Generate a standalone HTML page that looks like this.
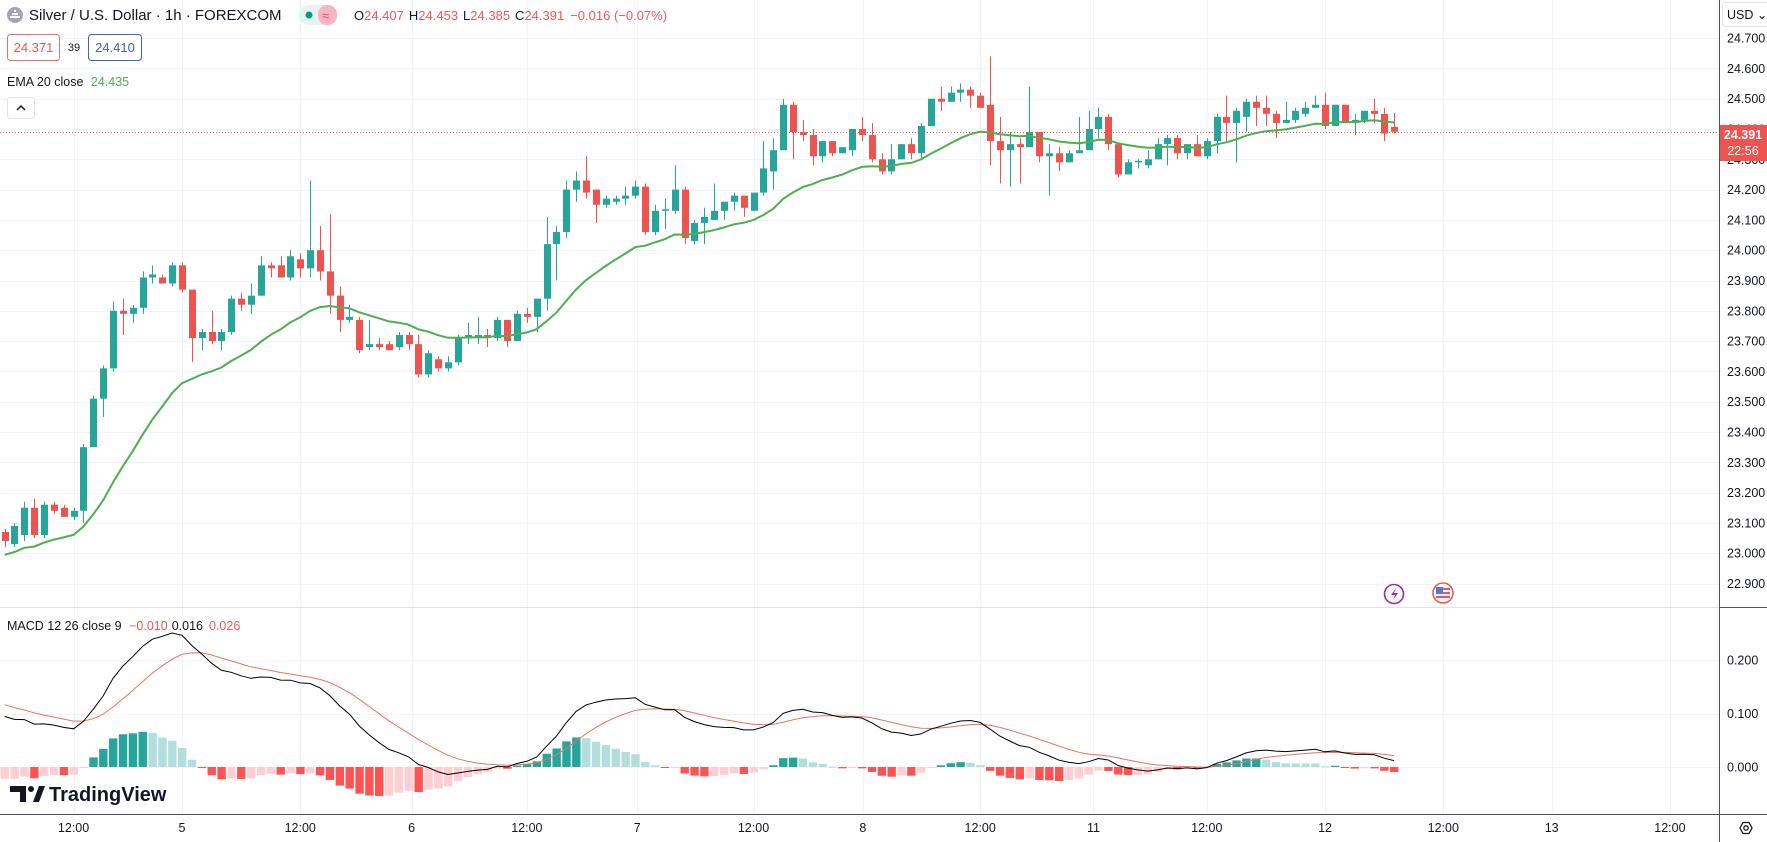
<!DOCTYPE html>
<html><head><meta charset="utf-8"><style>
html,body{margin:0;padding:0;background:#fff;overflow:hidden}
svg{display:block;font-family:"Liberation Sans",sans-serif}
</style></head><body>
<svg id="chart" width="1767" height="842" viewBox="0 0 1767 842" xmlns="http://www.w3.org/2000/svg">
<rect x="0" y="0" width="1767" height="842" fill="#ffffff"/>
<g id="grid"></g>
<g id="candles"></g>
<g id="macd"></g>
<g id="axes"></g>
<!-- header -->
<g>
<circle cx="15" cy="15" r="8" fill="#a3a6af"/>
<path d="M10 17 h10 M12 14 h6 M14 11 h2" stroke="#fff" stroke-width="2"/>
<text x="29" y="20" font-size="15" fill="#131722">Silver / U.S. Dollar · 1h · FOREXCOM</text>
<rect x="299" y="5" width="38" height="20" rx="10" fill="#e6f4f1"/>
<rect x="318" y="5" width="19" height="20" rx="9" fill="#f7b5c4"/>
<circle cx="309" cy="15" r="3.5" fill="#089981"/>
<text x="322" y="20" font-size="13" fill="#e2447a">≈</text>
<text x="354" y="20" font-size="13"><tspan fill="#131722">O</tspan><tspan fill="#e85a5a">24.407</tspan><tspan fill="#131722" dx="5">H</tspan><tspan fill="#e85a5a">24.453</tspan><tspan fill="#131722" dx="5">L</tspan><tspan fill="#e85a5a">24.385</tspan><tspan fill="#131722" dx="5">C</tspan><tspan fill="#e85a5a">24.391</tspan><tspan fill="#e85a5a" dx="6">−0.016 (−0.07%)</tspan></text>
<rect x="7.5" y="34.5" width="52" height="26" rx="3" fill="#fff" stroke="#e57373"/>
<text x="33.5" y="52" font-size="13" fill="#e85a5a" text-anchor="middle">24.371</text>
<text x="74" y="51" font-size="11" fill="#131722" text-anchor="middle">39</text>
<rect x="88.5" y="34.5" width="53" height="26" rx="3" fill="#fff" stroke="#3f62c5"/>
<text x="115" y="52" font-size="13" fill="#3f62c5" text-anchor="middle">24.410</text>
<text x="7" y="86" font-size="12.5" fill="#131722">EMA 20 close <tspan fill="#4caf50" dx="4">24.435</tspan></text>
<rect x="7.5" y="97.5" width="27" height="21" rx="3" fill="#fff" stroke="#e0e3eb"/>
<path d="M17 110 l4 -4 l4 4" stroke="#131722" stroke-width="1.5" fill="none"/>
<text x="7" y="630" font-size="12.5" fill="#131722">MACD 12 26 close 9 <tspan fill="#e85a5a" dx="4">−0.010</tspan><tspan fill="#131722" dx="4">0.016</tspan><tspan fill="#e85a5a" dx="6">0.026</tspan></text>
<g>
<path d="M10 786 h16 v16 h-6 v-10 h-10 z" fill="#131722"/>
<circle cx="31" cy="789" r="3" fill="#131722"/>
<path d="M33 802 l6 -16 h6 l-6 16 z" fill="#131722"/>
<text x="49" y="801" font-size="20" font-weight="bold" fill="#131722">TradingView</text>
</g>
<g>
<circle cx="1394" cy="594" r="9.5" fill="#fff" stroke="#9c27b0" stroke-width="1.6"/>
<path d="M1396 588 l-5 7 h4 l-2 5 l5 -7 h-4 z" fill="#9c27b0"/>
</g>
<g>
<circle cx="1443" cy="593" r="10" fill="#fff" stroke="#e85a5a" stroke-width="1.6"/>
<rect x="1436" y="587" width="14" height="13" fill="#f0f0f0"/>
<rect x="1436" y="587" width="7" height="7" fill="#4a7fd8"/>
<rect x="1443" y="588" width="7" height="2" fill="#e85a5a"/>
<rect x="1443" y="592" width="7" height="2" fill="#e85a5a"/>
<rect x="1436" y="596" width="14" height="2" fill="#e85a5a"/>
</g>
</g>
</svg>
<script>
// ---- data ----
const opens=[23.07,23.03,23.06,23.15,23.06,23.16,23.15,23.12,23.14,23.35,23.51,23.61,23.80,23.79,23.81,23.91,23.91,23.89,23.95,23.87,23.71,23.73,23.70,23.73,23.84,23.82,23.85,23.95,23.95,23.91,23.97,23.94,24.00,23.93,23.85,23.77,23.77,23.68,23.69,23.69,23.68,23.72,23.69,23.59,23.64,23.61,23.63,23.71,23.71,23.72,23.71,23.77,23.70,23.79,23.78,23.84,24.02,24.06,24.20,24.23,24.20,24.15,24.16,24.17,24.18,24.21,24.06,24.13,24.13,24.20,24.03,24.09,24.10,24.13,24.16,24.18,24.13,24.19,24.26,24.33,24.48,24.39,24.38,24.31,24.36,24.32,24.33,24.40,24.38,24.30,24.26,24.30,24.35,24.32,24.41,24.50,24.49,24.52,24.53,24.51,24.48,24.36,24.33,24.35,24.34,24.39,24.31,24.32,24.29,24.32,24.33,24.40,24.44,24.35,24.25,24.29,24.28,24.30,24.35,24.37,24.32,24.35,24.31,24.36,24.44,24.42,24.44,24.49,24.47,24.45,24.42,24.43,24.45,24.47,24.48,24.41,24.48,24.42,24.43,24.46,24.45,24.407];
const highs=[23.08,23.10,23.17,23.18,23.17,23.17,23.16,23.15,23.36,23.52,23.62,23.83,23.84,23.82,23.93,23.95,23.92,23.96,23.96,23.87,23.74,23.80,23.74,23.85,23.86,23.89,23.98,23.96,23.98,24.00,23.99,24.23,24.08,24.12,23.88,23.82,23.78,23.77,23.71,23.70,23.73,23.73,23.72,23.67,23.65,23.65,23.72,23.76,23.78,23.74,23.78,23.77,23.80,23.81,23.84,24.11,24.08,24.23,24.26,24.31,24.20,24.18,24.18,24.21,24.23,24.22,24.15,24.17,24.28,24.21,24.10,24.14,24.22,24.16,24.19,24.18,24.19,24.36,24.37,24.50,24.49,24.43,24.40,24.36,24.36,24.34,24.40,24.44,24.42,24.32,24.35,24.35,24.37,24.42,24.50,24.54,24.54,24.55,24.54,24.52,24.64,24.44,24.39,24.37,24.54,24.39,24.35,24.34,24.33,24.44,24.46,24.47,24.45,24.35,24.30,24.30,24.33,24.37,24.38,24.38,24.35,24.38,24.37,24.45,24.51,24.47,24.50,24.51,24.51,24.46,24.49,24.47,24.49,24.51,24.52,24.48,24.48,24.45,24.46,24.50,24.47,24.453];
const lows=[23.02,23.02,23.04,23.05,23.05,23.13,23.12,23.11,23.10,23.35,23.45,23.60,23.72,23.76,23.79,23.89,23.89,23.88,23.86,23.63,23.67,23.69,23.67,23.72,23.80,23.79,23.85,23.91,23.91,23.90,23.91,23.91,23.90,23.79,23.73,23.76,23.66,23.67,23.67,23.67,23.67,23.67,23.58,23.58,23.60,23.60,23.62,23.69,23.69,23.68,23.70,23.68,23.70,23.76,23.73,23.80,23.90,24.04,24.16,24.17,24.09,24.14,24.15,24.15,24.17,24.05,24.05,24.07,24.12,24.02,24.02,24.02,24.10,24.10,24.13,24.11,24.13,24.18,24.20,24.33,24.30,24.36,24.28,24.29,24.31,24.32,24.31,24.36,24.29,24.25,24.25,24.30,24.30,24.30,24.41,24.46,24.49,24.49,24.47,24.47,24.28,24.22,24.21,24.22,24.34,24.29,24.18,24.26,24.29,24.32,24.33,24.37,24.33,24.24,24.25,24.27,24.27,24.30,24.28,24.30,24.30,24.31,24.30,24.32,24.36,24.29,24.39,24.41,24.41,24.37,24.42,24.42,24.44,24.47,24.40,24.41,24.42,24.38,24.42,24.42,24.36,24.385];
const closes=[23.04,23.09,23.15,23.06,23.16,23.14,23.12,23.14,23.35,23.51,23.61,23.80,23.79,23.81,23.91,23.92,23.89,23.95,23.87,23.71,23.73,23.70,23.73,23.84,23.82,23.85,23.95,23.94,23.91,23.98,23.94,24.00,23.93,23.85,23.77,23.78,23.67,23.69,23.68,23.67,23.72,23.69,23.59,23.66,23.61,23.63,23.71,23.72,23.72,23.71,23.77,23.70,23.79,23.78,23.84,24.02,24.06,24.20,24.23,24.19,24.15,24.17,24.17,24.18,24.21,24.06,24.13,24.135,24.20,24.04,24.09,24.11,24.13,24.16,24.18,24.14,24.19,24.27,24.33,24.48,24.39,24.38,24.31,24.36,24.32,24.34,24.40,24.38,24.30,24.26,24.30,24.35,24.32,24.41,24.50,24.49,24.52,24.53,24.51,24.47,24.36,24.33,24.35,24.34,24.39,24.31,24.32,24.29,24.32,24.33,24.40,24.44,24.35,24.25,24.29,24.295,24.30,24.35,24.37,24.32,24.35,24.31,24.36,24.44,24.42,24.46,24.49,24.47,24.45,24.42,24.43,24.46,24.47,24.48,24.41,24.48,24.42,24.43,24.46,24.45,24.385,24.391];
const emaSeed=[22.99];            // EMA20 value before first visible bar
const macdSeeds=[23.075,22.97,0.122]; // prior EMA12, EMA26, signal
const priceTicks=["24.700","24.600","24.500","24.400","24.300","24.200","24.100","24.000","23.900","23.800","23.700","23.600","23.500","23.400","23.300","23.200","23.100","23.000","22.900"];
const macdTicks=["0.200","0.100","0.000"];
const timeLabels=["12:00","5","12:00","6","12:00","7","12:00","8","12:00","11","12:00","12","12:00","13","12:00"];
const timeBars=[7,18,30,41.3,53,64.2,76,87.1,99,110.5,122,134,146,157,169];
const lastPrice=[24.391];

// ---- scales ----
const NS="http://www.w3.org/2000/svg";
const PLOT_R=1719;
const xOf=i=>4.6+i*9.854;
const yP=p=>159.3+(24.3-p)*303;
const yM=v=>767-v*535;
function mk(tag,attrs,parent){const e=document.createElementNS(NS,tag);for(const k in attrs)e.setAttribute(k,attrs[k]);parent.appendChild(e);return e;}
const grid=document.getElementById('grid'),cg=document.getElementById('candles'),mg=document.getElementById('macd'),ag=document.getElementById('axes');

// grid
priceTicks.forEach(t=>{const y=Math.round(yP(parseFloat(t)))+0.5;
 const l=mk('line',{x1:0,x2:PLOT_R,y1:y,y2:y,stroke:'#f0f3fa','stroke-width':1},grid);
 
 });
macdTicks.forEach(t=>{const y=Math.round(yM(parseFloat(t)))+0.5;
 const l=mk('line',{x1:0,x2:PLOT_R,y1:y,y2:y,stroke:'#f0f3fa','stroke-width':1},grid);
 
 });
timeBars.forEach(b=>{const x=Math.round(xOf(b))+0.5;
 const l=mk('line',{x1:x,x2:x,y1:0,y2:814,stroke:'#f0f3fa','stroke-width':1},grid);
 
 });

// candles
const UP='#26a69a',DN='#ef5350';
for(let i=0;i<closes.length;i++){
 const o=opens[i],c=closes[i],h=highs[i],lo=lows[i];
 const col=c>=o?UP:DN;const x=xOf(i);
 const w=mk('line',{x1:Math.round(x)+0.5,x2:Math.round(x)+0.5,y1:yP(h),y2:yP(lo),stroke:col,'stroke-width':1},cg);
 
 
 const top=yP(Math.max(o,c)),bot=yP(Math.min(o,c));
 const r=mk('rect',{x:Math.round(x)-3,y:top,width:7,height:Math.max(1,bot-top),fill:col},cg);
 
 
}
// EMA20
let e=emaSeed[0];const k20=2/21;let pts=[];
for(let i=0;i<closes.length;i++){e=e+k20*(closes[i]-e);pts.push(xOf(i).toFixed(1)+','+yP(e).toFixed(1));}
const ema=mk('polyline',{points:pts.join(' '),fill:'none',stroke:'#4caf50','stroke-width':2},cg);


// price line
const ply=Math.round(yP(lastPrice[0]))+0.5;
const pl=mk('line',{x1:0,x2:PLOT_R,y1:ply,y2:ply,stroke:'#ef5350','stroke-width':1,'stroke-dasharray':'1,2'},cg);



// MACD
let e12=macdSeeds[0],e26=macdSeeds[1],sig=macdSeeds[2];
const a12=2/13,a26=2/27,a9=2/10;let mP=[],sP=[],prevH=null;
for(let i=0;i<closes.length;i++){
 e12+=a12*(closes[i]-e12);e26+=a26*(closes[i]-e26);
 const m=e12-e26;sig+=a9*(m-sig);const hv=m-sig;
 let col;if(hv>=0)col=(prevH===null||prevH<hv)?'#26a69a':'#b2dfdb';else col=(prevH===null||prevH<hv)?'#ffcdd2':'#ff5252';
 prevH=hv;const x=xOf(i);const y0=yM(0),y1=yM(hv);
 const b=mk('rect',{x:x-4,y:Math.min(y0,y1),width:8.4,height:Math.max(1,Math.abs(y1-y0)),fill:col},mg);
 
 
 mP.push(x.toFixed(1)+','+yM(m).toFixed(1));sP.push(x.toFixed(1)+','+yM(sig).toFixed(1));
}
const sl=mk('polyline',{points:sP.join(' '),fill:'none',stroke:'#e57368','stroke-width':1},mg);


const ml=mk('polyline',{points:mP.join(' '),fill:'none',stroke:'#000000','stroke-width':1},mg);



// axes
mk('rect',{x:PLOT_R,y:0,width:48,height:842,fill:'#fff'},ag);
mk('rect',{x:0,y:814,width:1767,height:28,fill:'#fff'},ag);
const sep=mk('line',{x1:0,x2:1767,y1:607.5,y2:607.5,stroke:'#e0e3eb','stroke-width':1},ag);


const pa=mk('line',{x1:PLOT_R+0.5,x2:PLOT_R+0.5,y1:0,y2:842,stroke:'#50535e','stroke-width':1},ag);


const ta=mk('line',{x1:0,x2:1767,y1:814.5,y2:814.5,stroke:'#50535e','stroke-width':1},ag);


mk('line',{x1:PLOT_R,x2:1767,y1:607.5,y2:607.5,stroke:'#50535e','stroke-width':1},ag);
priceTicks.forEach(t=>{const y=yP(parseFloat(t));
 const tx=mk('text',{x:1727,y:y+4.5,'font-size':12.5,fill:'#131722'},ag);tx.textContent=t;
 
 });
macdTicks.forEach(t=>{const y=yM(parseFloat(t));
 const tx=mk('text',{x:1727,y:y+4.5,'font-size':12.5,fill:'#131722'},ag);tx.textContent=t;
 
 });
timeLabels.forEach((t,j)=>{const x=xOf(timeBars[j]);
 const tx=mk('text',{x:x,y:832,'font-size':12.5,fill:'#131722','text-anchor':'middle'},ag);tx.textContent=t;
 
 });
// current price label
const lb=mk('rect',{x:PLOT_R+1,y:125,width:47,height:36,fill:'#ef5350'},ag);


const t1=mk('text',{x:1743,y:139,'font-size':12.5,'font-weight':'bold',fill:'#fff','text-anchor':'middle'},ag);t1.textContent=lastPrice[0].toFixed(3);


const t2=mk('text',{x:1743,y:155,'font-size':12.5,fill:'#fff','text-anchor':'middle'},ag);t2.textContent='22:56';


// currency button
const cb=mk('rect',{x:1722.5,y:2.5,width:50,height:24,rx:3,fill:'#fff',stroke:'#e0e3eb'},ag);


const ct=mk('text',{x:1727,y:19,'font-size':12.5,fill:'#131722'},ag);ct.textContent='USD ⌄';


// settings gear
const gr=mk('path',{d:'M1740 828 l3 -5.5 h6 l3 5.5 l-3 5.5 h-6 z',fill:'none',stroke:'#131722','stroke-width':1.3},ag);


mk('circle',{cx:1746,cy:828,r:2.2,fill:'none',stroke:'#131722','stroke-width':1.3},ag);
</script>
</body></html>
